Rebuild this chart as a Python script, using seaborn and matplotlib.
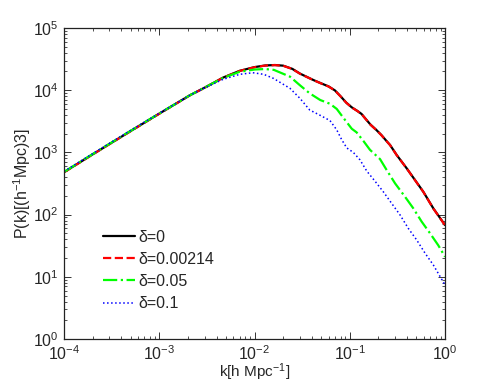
import numpy as np
import pandas as pd
import matplotlib
matplotlib.use("Agg")
import matplotlib.pyplot as plt
import seaborn as sns
from matplotlib.ticker import LogLocator, NullFormatter

# ---- data ----
k_black = [1e-4, 2e-4, 5e-4, 1e-3, 2.1e-3, 3e-3, 4.7e-3, 7e-3, 0.01, 0.013, 0.0164, 0.02,
           0.025, 0.03, 0.0414, 0.05, 0.06, 0.07, 0.08, 0.092, 0.105, 0.12, 0.133, 0.147,
           0.165, 0.19, 0.215, 0.24, 0.265, 0.311, 0.396, 0.484, 0.592, 0.754, 1.0]
p_black = [480, 930, 2200, 4200, 8300, 11000, 16000, 20500, 23500, 25000, 25400, 24800,
           22000, 18500, 14600, 12900, 11500, 9900, 8000, 6300, 5300, 4650, 4150, 3450,
           2800, 2300, 1900, 1560, 1315, 908, 555, 360, 233, 126, 68]

k_red = k_black
p_red = [478, 926, 2190, 4180, 8270, 10950, 15930, 20400, 23400, 24900, 25300, 24700,
         21900, 18400, 14550, 12850, 11450, 9860, 7970, 6280, 5280, 4630, 4130, 3440,
         2790, 2290, 1890, 1555, 1310, 904, 553, 358, 232, 125, 67.5]

k_green = [1e-4, 2e-4, 5e-4, 1e-3, 2.1e-3, 3e-3, 4.7e-3, 7e-3, 0.01, 0.0129, 0.016, 0.0236,
           0.03, 0.038, 0.049, 0.062, 0.073, 0.0857, 0.105, 0.118, 0.139, 0.163, 0.208,
           0.244, 0.299, 0.38, 0.465, 0.569, 0.697, 0.851, 1.0]
p_green = [485, 940, 2220, 4220, 8300, 11000, 15800, 19800, 21500, 21900, 21200, 16500,
           12000, 8900, 6950, 6050, 5000, 3600, 2400, 2100, 1530, 1100, 780,
           521, 318, 194, 126, 77, 50, 32, 21]

k_blue = [1e-4, 2e-4, 5e-4, 1e-3, 2.1e-3, 3e-3, 4.7e-3, 7e-3, 0.0096, 0.0125, 0.0158, 0.0236,
          0.030, 0.038, 0.0488, 0.062, 0.073, 0.082, 0.093, 0.109, 0.128, 0.151, 0.184,
          0.225, 0.275, 0.337, 0.412, 0.505, 0.617, 0.754, 1.0]
p_blue = [495, 955, 2260, 4250, 8300, 10900, 15000, 18000, 19100, 18000, 15500, 10700,
          7400, 4800, 3950, 3250, 2300, 1620, 1180, 1000, 760, 500, 345,
          233, 152, 99, 60, 39, 24, 15.5, 7.4]

labels = ["δ=0", "δ=0.00214", "δ=0.05", "δ=0.1"]
colors = ["black", "#ff0000", "#00ff00", "#0000ff"]
styles = ["-", "--", "-.", ":"]
widths = [1.6, 1.6, 1.6, 1.1]

x_ticks = [1e-4, 1e-3, 1e-2, 1e-1, 1e0]
x_ticklabels = [r"$10^{-4}$", r"$10^{-3}$", r"$10^{-2}$", r"$10^{-1}$", r"$10^{0}$"]
y_ticks = [1e0, 1e1, 1e2, 1e3, 1e4, 1e5]
y_ticklabels = [r"$10^{0}$", r"$10^{1}$", r"$10^{2}$", r"$10^{3}$", r"$10^{4}$", r"$10^{5}$"]

# ---- style ----
sns.set_style("ticks")
plt.rcParams["font.family"] = ["Liberation Sans", "DejaVu Sans"]
plt.rcParams["mathtext.fontset"] = "custom"
plt.rcParams["mathtext.rm"] = "Liberation Sans"
plt.rcParams["mathtext.it"] = "Liberation Sans:italic"
plt.rcParams["mathtext.bf"] = "Liberation Sans:bold"

fig = plt.figure(figsize=(4.91, 3.82), dpi=100)
ax = fig.add_axes([64 / 491, 43 / 382, 381 / 491, 311 / 382])

series = [(k_black, p_black), (k_red, p_red), (k_green, p_green), (k_blue, p_blue)]
for (kk, pp), lab, col, ls, lw in zip(series, labels, colors, styles, widths):
    df = pd.DataFrame({"k": kk, "P": pp})
    sns.lineplot(data=df, x="k", y="P", ax=ax, color=col, linestyle=ls,
                 linewidth=lw, label=lab, sort=True, estimator=None)

ax.set_xscale("log")
ax.set_yscale("log")
ax.set_xlim(1e-4, 1e0)
ax.set_ylim(1e0, 1e5)

ax.set_xticks(x_ticks)
ax.set_xticklabels(x_ticklabels)
ax.set_yticks(y_ticks)
ax.set_yticklabels(y_ticklabels)
ax.xaxis.set_minor_locator(LogLocator(base=10, subs=np.arange(2, 10), numticks=20))
ax.yaxis.set_minor_locator(LogLocator(base=10, subs=np.arange(2, 10), numticks=20))
ax.xaxis.set_minor_formatter(NullFormatter())
ax.yaxis.set_minor_formatter(NullFormatter())

ax.tick_params(which="both", direction="in", top=True, right=True, labelsize=11.5,
               color="#333333")
ax.tick_params(which="major", length=5, width=0.7)
ax.tick_params(which="minor", length=2.5, width=0.6)
ax.tick_params(axis="x", which="major", pad=4)
ax.tick_params(axis="y", which="major", pad=4)
for s in ax.spines.values():
    s.set_visible(True)
    s.set_linewidth(0.9)
    s.set_color("#222222")

ax.set_xlabel(r"k[h Mpc$^{-1}$]", fontsize=11, labelpad=-1)
ax.set_ylabel(r"P(k)[(h$^{-1}$Mpc)3]", fontsize=11.5, labelpad=0)

leg = ax.legend(loc="upper left", bbox_to_anchor=(0.103, 0.352), frameon=False,
                fontsize=11.5, handlelength=2.0, handletextpad=0.2,
                labelspacing=0.45, borderpad=0, borderaxespad=0)

fig.savefig("out.png", dpi=100)
